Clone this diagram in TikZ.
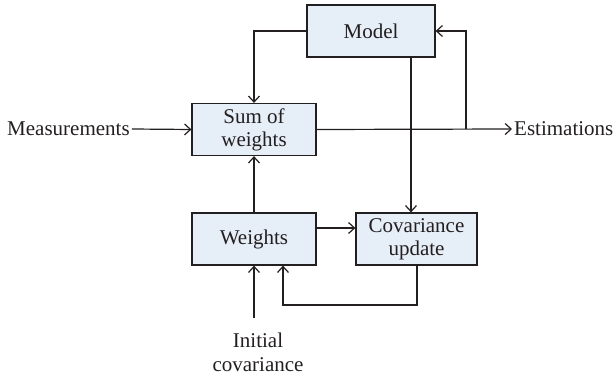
\documentclass[tikz,border=0pt]{standalone}
\usepackage{fontspec}
\setmainfont{Liberation Serif}
\usetikzlibrary{arrows.meta}
\definecolor{boxfill}{HTML}{E6EEF8}
\definecolor{ink}{HTML}{231F20}
\begin{document}
\begin{tikzpicture}[x=1pt,y=-1pt,
  blk/.style={draw=ink,fill=boxfill,line width=1.2pt,minimum width=124pt,minimum height=52pt,inner sep=0pt,align=center,font=\fontsize{21}{23}\selectfont,text=ink},
  lbl/.style={font=\fontsize{21}{24}\selectfont,text=ink,inner sep=2pt,align=center},
  conn/.style={draw=ink,line width=1.2pt},
  arr/.style={conn,-{Straight Barb[length=6pt,width=11pt,line width=1.2pt]}}]
\useasboundingbox (0,0) rectangle (615,379);
\node[blk,minimum width=128pt] (model) at (371,31) {Model};
\node[blk] (sum) at (254,129.5) {Sum of\\weights};
\node[blk] (wts) at (254,239) {Weights};
\node[blk,minimum width=121pt] (cov) at (416.5,239) {Covariance\\update};
\node[lbl,anchor=west] (meas) at (5,129) {Measurements};
\node[lbl,anchor=west] (est) at (512,129) {Estimations};
\node[lbl] (init) at (258,352) {Initial\\covariance};
\coordinate (br) at (466,129);
\coordinate (covfb) at (417,305);
\coordinate (initfb) at (283,305);
\coordinate (inittop) at (254,318);
\draw[arr] (meas.east) -- (sum.west);
\draw[arr] (sum.east) -- (est.west);
\draw[arr] (br) |- (model.east);
\draw[arr] (model.west) -| (sum.north);
\draw[arr] (model.south -| 411,0) -- (cov.north -| 411,0);
\draw[arr] (wts.north) -- (sum.south);
\draw[arr] (wts.east |- 0,228) -- (cov.west |- 0,228);
\draw[arr] (cov.south -| covfb) -- (covfb) -- (initfb) -- (wts.south -| initfb);
\draw[arr] (inittop) -- (wts.south -| inittop);
\end{tikzpicture}
\end{document}
